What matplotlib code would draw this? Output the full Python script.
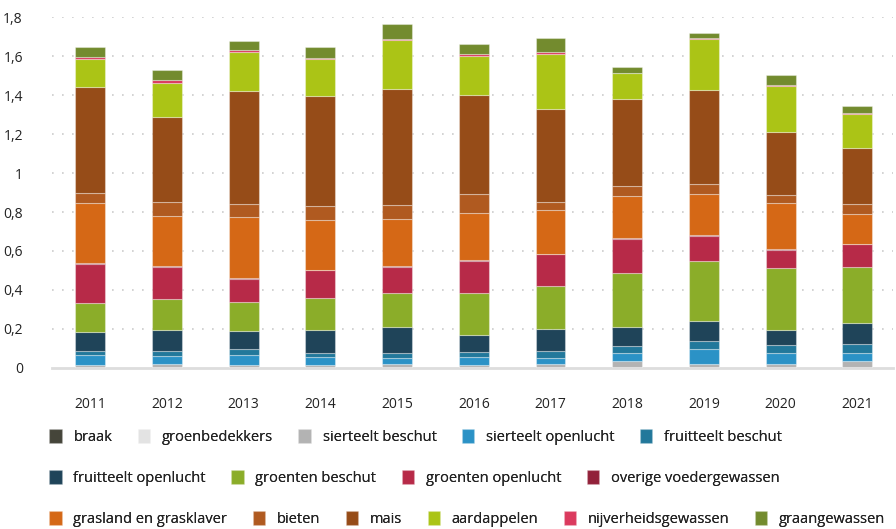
import matplotlib.pyplot as plt
import numpy as np

plt.rcParams['font.family'] = ['Open Sans', 'DejaVu Sans']

years = ['2011', '2012', '2013', '2014', '2015', '2016', '2017', '2018', '2019', '2020', '2021']

# gewassen van onder naar boven
braak = [0, 0, 0, 0, 0, 0, 0, 0, 0, 0, 0]
groenbedekkers = [0.002, 0.002, 0.002, 0.002, 0.002, 0.002, 0.002, 0.002, 0.002, 0.002, 0.002]
sierteelt_beschut = [0.012, 0.018, 0.012, 0.012, 0.019, 0.012, 0.016, 0.033, 0.018, 0.019, 0.031]
sierteelt_openlucht = [0.050, 0.039, 0.052, 0.042, 0.029, 0.043, 0.034, 0.041, 0.075, 0.052, 0.043]
fruitteelt_beschut = [0.022, 0.026, 0.029, 0.020, 0.026, 0.024, 0.034, 0.033, 0.041, 0.043, 0.048]
fruitteelt_openlucht = [0.097, 0.111, 0.091, 0.120, 0.135, 0.089, 0.115, 0.101, 0.106, 0.077, 0.108]
groenten_beschut = [0.150, 0.159, 0.152, 0.161, 0.174, 0.215, 0.220, 0.279, 0.307, 0.319, 0.286]
groenten_openlucht = [0.202, 0.162, 0.120, 0.144, 0.133, 0.163, 0.162, 0.172, 0.129, 0.095, 0.117]
overige_voeder = [0.003, 0.003, 0.003, 0.003, 0.003, 0.003, 0.003, 0.003, 0.003, 0.003, 0.003]
grasland = [0.308, 0.260, 0.313, 0.254, 0.242, 0.245, 0.225, 0.218, 0.211, 0.237, 0.151]
bieten = [0.051, 0.071, 0.068, 0.074, 0.074, 0.098, 0.040, 0.053, 0.051, 0.041, 0.053]
mais = [0.543, 0.435, 0.581, 0.562, 0.596, 0.505, 0.481, 0.447, 0.485, 0.324, 0.285]
aardappelen = [0.144, 0.177, 0.202, 0.190, 0.249, 0.204, 0.280, 0.130, 0.261, 0.235, 0.179]
nijverheid = [0.012, 0.017, 0.010, 0.009, 0.007, 0.007, 0.008, 0.005, 0.005, 0.005, 0.002]
graan = [0.050, 0.050, 0.045, 0.055, 0.079, 0.053, 0.072, 0.030, 0.027, 0.052, 0.036]

series = [
    ('braak', braak, '#45453a'),
    ('groenbedekkers', groenbedekkers, '#e3e3e3'),
    ('sierteelt beschut', sierteelt_beschut, '#b3b3b3'),
    ('sierteelt openlucht', sierteelt_openlucht, '#2b92c6'),
    ('fruitteelt beschut', fruitteelt_beschut, '#22789b'),
    ('fruitteelt openlucht', fruitteelt_openlucht, '#1f4459'),
    ('groenten beschut', groenten_beschut, '#8bad29'),
    ('groenten openlucht', groenten_openlucht, '#b72a48'),
    ('overige voedergewassen', overige_voeder, '#92213a'),
    ('grasland en grasklaver', grasland, '#d56816'),
    ('bieten', bieten, '#b05a20'),
    ('mais', mais, '#964c18'),
    ('aardappelen', aardappelen, '#abc416'),
    ('nijverheidsgewassen', nijverheid, '#db3a5e'),
    ('graangewassen', graan, '#738b2e'),
]

fig = plt.figure(figsize=(8.96, 5.29), dpi=100)
ax = fig.add_axes([0.058, 0.305, 0.939, 0.662])

x = np.arange(len(years))
bottom = np.zeros(len(years))
handles = []
for name, vals, col in series:
    b = ax.bar(x, vals, 0.39, bottom=bottom, color=col, label=name,
               edgecolor=(1, 1, 1, 0.35), linewidth=0.8, zorder=3)
    bottom += np.array(vals)
    handles.append(b)

ax.set_xlim(-0.5, 10.47)
ax.set_ylim(0, 1.8)
ax.set_yticks(np.arange(0, 1.81, 0.2))
ax.set_yticklabels(['0', '0,2', '0,4', '0,6', '0,8', '1', '1,2', '1,4', '1,6', '1,8'])
ax.set_xticks(x)
ax.set_xticklabels(years)
ax.tick_params(axis='y', length=0, pad=21, labelsize=10, labelcolor='#222222')
ax.tick_params(axis='x', length=0, pad=21, labelsize=10, labelcolor='#222222')

for s in ['top', 'right', 'left']:
    ax.spines[s].set_visible(False)
ax.spines['bottom'].set_color('#dddddd')
ax.spines['bottom'].set_linewidth(2)

for v in np.arange(0.2, 1.81, 0.2):
    ax.axhline(v, color='#cccccc', linestyle=(0, (1, 5)), linewidth=1.2, zorder=1)

# legenda in drie rijen
rows = [(0, 5, 0.174), (5, 9, 0.096), (9, 15, 0.019)]
for start, end, ypos in rows:
    leg = fig.legend(handles=handles[start:end], loc='center left',
                     bbox_to_anchor=(0.055, ypos), ncol=end - start, frameon=False,
                     fontsize=10.5, handlelength=0.85, handleheight=1.05,
                     handletextpad=0.8, columnspacing=1.75, borderpad=0,
                     borderaxespad=0)
    for t in leg.get_texts():
        t.set_color('#222222')
    fig.add_artist(leg)

fig.savefig('out.png', dpi=100)
